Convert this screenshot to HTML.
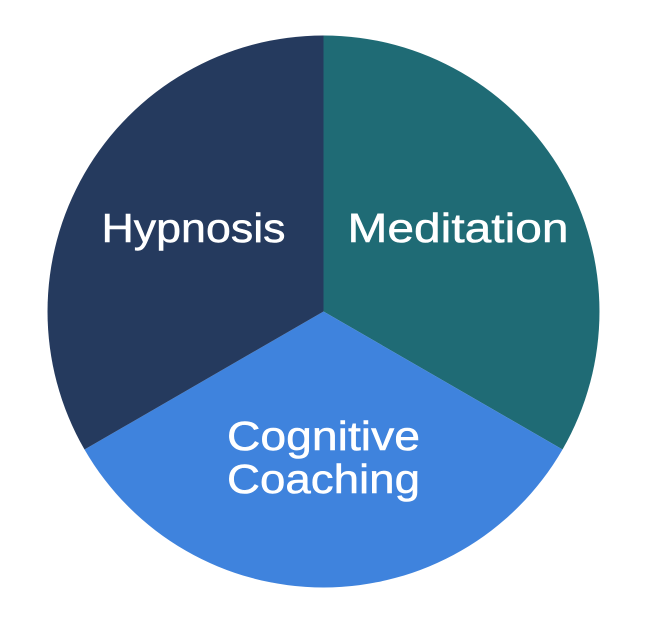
<!DOCTYPE html>
<html>
<head>
<meta charset="utf-8">
<style>
html,body{margin:0;padding:0;background:#fff;width:647px;height:619px;overflow:hidden}
svg{display:block}
text{font-family:"Liberation Sans",sans-serif;font-size:41px;fill:#fff;stroke:#fff;stroke-width:.5px}
</style>
</head>
<body>
<svg width="647" height="619" viewBox="0 0 647 619" xmlns="http://www.w3.org/2000/svg">
<path d="M323.5 311.5 L323.5 35.5 A276 276 0 0 1 562.5 449.5 Z" fill="#1f6b75"/>
<path d="M323.5 311.5 L562.5 449.5 A276 276 0 0 1 84.5 449.5 Z" fill="#3f83dd"/>
<path d="M323.5 311.5 L84.5 449.5 A276 276 0 0 1 323.5 35.5 Z" fill="#253a5e"/>
<text x="101.500" y="242" textLength="184" lengthAdjust="spacingAndGlyphs">Hypnosis</text>
<text x="347.500" y="242" textLength="221" lengthAdjust="spacingAndGlyphs">Meditation</text>
<text x="227" y="450" textLength="193" lengthAdjust="spacingAndGlyphs">Cognitive</text>
<text x="227" y="493" textLength="193" lengthAdjust="spacingAndGlyphs">Coaching</text>
</svg>
</body>
</html>
